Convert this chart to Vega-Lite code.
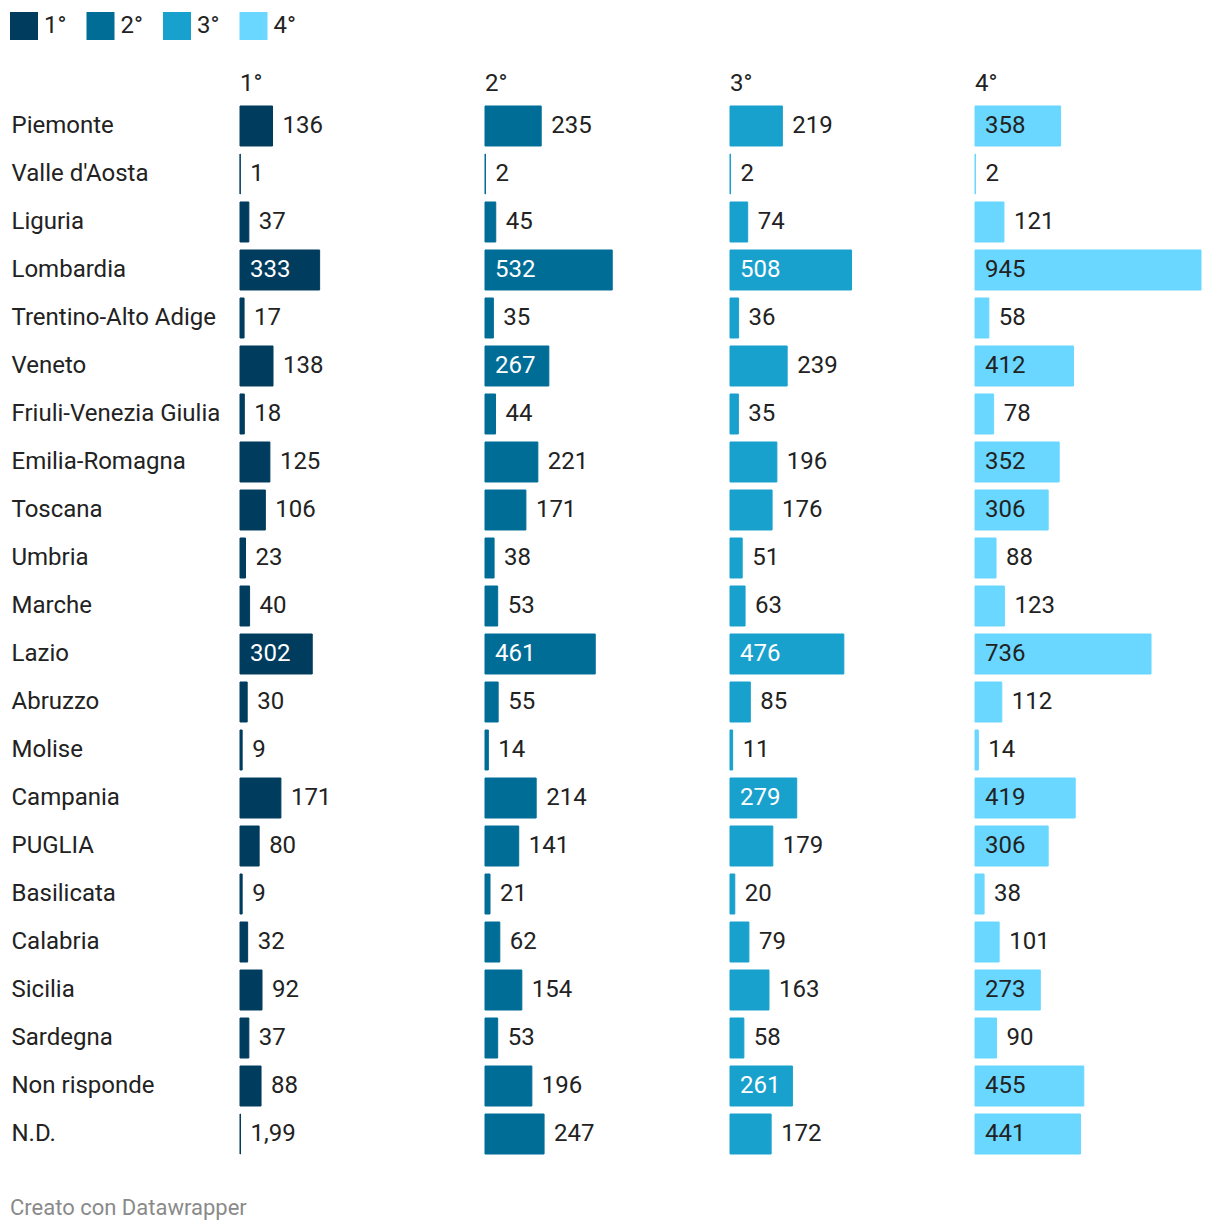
{
  "$schema": "https://vega.github.io/schema/vega-lite/v6.json",
  "padding": {"left": 10, "top": 12, "right": 10, "bottom": 10},
  "background": "white",
  "title": {"text": "Creato con Datawrapper", "orient": "bottom", "anchor": "start", "fontSize": 22, "fontWeight": "normal", "color": "#8a8a8a", "font": "Roboto", "offset": 40},
  "data": {"values": [
    {"region": "Piemonte", "pos": "1°", "v": 136}, {"region": "Piemonte", "pos": "2°", "v": 235}, {"region": "Piemonte", "pos": "3°", "v": 219}, {"region": "Piemonte", "pos": "4°", "v": 358},
    {"region": "Valle d'Aosta", "pos": "1°", "v": 1}, {"region": "Valle d'Aosta", "pos": "2°", "v": 2}, {"region": "Valle d'Aosta", "pos": "3°", "v": 2}, {"region": "Valle d'Aosta", "pos": "4°", "v": 2},
    {"region": "Liguria", "pos": "1°", "v": 37}, {"region": "Liguria", "pos": "2°", "v": 45}, {"region": "Liguria", "pos": "3°", "v": 74}, {"region": "Liguria", "pos": "4°", "v": 121},
    {"region": "Lombardia", "pos": "1°", "v": 333}, {"region": "Lombardia", "pos": "2°", "v": 532}, {"region": "Lombardia", "pos": "3°", "v": 508}, {"region": "Lombardia", "pos": "4°", "v": 945},
    {"region": "Trentino-Alto Adige", "pos": "1°", "v": 17}, {"region": "Trentino-Alto Adige", "pos": "2°", "v": 35}, {"region": "Trentino-Alto Adige", "pos": "3°", "v": 36}, {"region": "Trentino-Alto Adige", "pos": "4°", "v": 58},
    {"region": "Veneto", "pos": "1°", "v": 138}, {"region": "Veneto", "pos": "2°", "v": 267}, {"region": "Veneto", "pos": "3°", "v": 239}, {"region": "Veneto", "pos": "4°", "v": 412},
    {"region": "Friuli-Venezia Giulia", "pos": "1°", "v": 18}, {"region": "Friuli-Venezia Giulia", "pos": "2°", "v": 44}, {"region": "Friuli-Venezia Giulia", "pos": "3°", "v": 35}, {"region": "Friuli-Venezia Giulia", "pos": "4°", "v": 78},
    {"region": "Emilia-Romagna", "pos": "1°", "v": 125}, {"region": "Emilia-Romagna", "pos": "2°", "v": 221}, {"region": "Emilia-Romagna", "pos": "3°", "v": 196}, {"region": "Emilia-Romagna", "pos": "4°", "v": 352},
    {"region": "Toscana", "pos": "1°", "v": 106}, {"region": "Toscana", "pos": "2°", "v": 171}, {"region": "Toscana", "pos": "3°", "v": 176}, {"region": "Toscana", "pos": "4°", "v": 306},
    {"region": "Umbria", "pos": "1°", "v": 23}, {"region": "Umbria", "pos": "2°", "v": 38}, {"region": "Umbria", "pos": "3°", "v": 51}, {"region": "Umbria", "pos": "4°", "v": 88},
    {"region": "Marche", "pos": "1°", "v": 40}, {"region": "Marche", "pos": "2°", "v": 53}, {"region": "Marche", "pos": "3°", "v": 63}, {"region": "Marche", "pos": "4°", "v": 123},
    {"region": "Lazio", "pos": "1°", "v": 302}, {"region": "Lazio", "pos": "2°", "v": 461}, {"region": "Lazio", "pos": "3°", "v": 476}, {"region": "Lazio", "pos": "4°", "v": 736},
    {"region": "Abruzzo", "pos": "1°", "v": 30}, {"region": "Abruzzo", "pos": "2°", "v": 55}, {"region": "Abruzzo", "pos": "3°", "v": 85}, {"region": "Abruzzo", "pos": "4°", "v": 112},
    {"region": "Molise", "pos": "1°", "v": 9}, {"region": "Molise", "pos": "2°", "v": 14}, {"region": "Molise", "pos": "3°", "v": 11}, {"region": "Molise", "pos": "4°", "v": 14},
    {"region": "Campania", "pos": "1°", "v": 171}, {"region": "Campania", "pos": "2°", "v": 214}, {"region": "Campania", "pos": "3°", "v": 279}, {"region": "Campania", "pos": "4°", "v": 419},
    {"region": "PUGLIA", "pos": "1°", "v": 80}, {"region": "PUGLIA", "pos": "2°", "v": 141}, {"region": "PUGLIA", "pos": "3°", "v": 179}, {"region": "PUGLIA", "pos": "4°", "v": 306},
    {"region": "Basilicata", "pos": "1°", "v": 9}, {"region": "Basilicata", "pos": "2°", "v": 21}, {"region": "Basilicata", "pos": "3°", "v": 20}, {"region": "Basilicata", "pos": "4°", "v": 38},
    {"region": "Calabria", "pos": "1°", "v": 32}, {"region": "Calabria", "pos": "2°", "v": 62}, {"region": "Calabria", "pos": "3°", "v": 79}, {"region": "Calabria", "pos": "4°", "v": 101},
    {"region": "Sicilia", "pos": "1°", "v": 92}, {"region": "Sicilia", "pos": "2°", "v": 154}, {"region": "Sicilia", "pos": "3°", "v": 163}, {"region": "Sicilia", "pos": "4°", "v": 273},
    {"region": "Sardegna", "pos": "1°", "v": 37}, {"region": "Sardegna", "pos": "2°", "v": 53}, {"region": "Sardegna", "pos": "3°", "v": 58}, {"region": "Sardegna", "pos": "4°", "v": 90},
    {"region": "Non risponde", "pos": "1°", "v": 88}, {"region": "Non risponde", "pos": "2°", "v": 196}, {"region": "Non risponde", "pos": "3°", "v": 261}, {"region": "Non risponde", "pos": "4°", "v": 455},
    {"region": "N.D.", "pos": "1°", "v": 1.99}, {"region": "N.D.", "pos": "2°", "v": 247}, {"region": "N.D.", "pos": "3°", "v": 172}, {"region": "N.D.", "pos": "4°", "v": 441}
  ]},
  "facet": {"column": {"field": "pos", "type": "nominal", "sort": ["1°", "2°", "3°", "4°"],
    "header": {"title": null, "labelAnchor": "start", "labelAlign": "left", "labelFontSize": 24, "labelFont": "Roboto", "labelColor": "#222222", "labelPadding": 6}}},
  "spacing": 17,
  "spec": {
    "width": 226,
    "height": 1056,
    "encoding": {
      "y": {"field": "region", "type": "nominal", "sort": null,
        "scale": {"paddingInner": 0.1667, "paddingOuter": 0.0833},
        "axis": {"title": null, "domain": false, "ticks": false, "labelAlign": "left", "labelPadding": 228, "labelFontSize": 24, "labelFont": "Roboto", "labelColor": "#222222", "labelLimit": 228}}
    },
    "layer": [
      {"mark": {"type": "bar", "strokeWidth": 1},
       "encoding": {
         "x": {"field": "v", "type": "quantitative", "scale": {"domain": [0, 945], "nice": false}, "axis": null},
         "color": {"field": "pos", "type": "nominal", "scale": {"domain": ["1°", "2°", "3°", "4°"], "range": ["#003c5e", "#006d97", "#19a1cd", "#69d7ff"]},
           "legend": {"title": null, "orient": "none", "legendX": -230, "legendY": -90, "direction": "horizontal", "symbolType": "square", "symbolSize": 784, "symbolStrokeWidth": 0, "labelFontSize": 24, "labelFont": "Roboto", "labelColor": "#222222", "labelOffset": 6, "columnPadding": 19.5}},
         "stroke": {"field": "pos", "type": "nominal", "scale": {"domain": ["1°", "2°", "3°", "4°"], "range": ["#003c5e", "#006d97", "#19a1cd", "#69d7ff"]}, "legend": null}
       }},
      {"transform": [{"filter": "datum.v < 250"}],
       "mark": {"type": "text", "align": "left", "baseline": "middle", "dx": 10, "fontSize": 24, "font": "Roboto", "color": "#222222"},
       "encoding": {"x": {"field": "v", "type": "quantitative"}, "text": {"field": "v", "type": "quantitative", "format": "~g"}}},
      {"transform": [{"filter": "datum.v >= 250"}],
       "mark": {"type": "text", "align": "left", "baseline": "middle", "dx": 10, "fontSize": 24, "font": "Roboto"},
       "encoding": {"x": {"datum": 0, "type": "quantitative"}, "text": {"field": "v", "type": "quantitative", "format": "~g"},
         "color": {"condition": {"test": "datum.pos === '4°'", "value": "#222222"}, "value": "#ffffff"}}}
    ]
  },
  "config": {
    "view": {"stroke": null},
    "font": "Roboto",
    "locale": {"number": {"decimal": ",", "thousands": ".", "grouping": [3], "currency": ["€", ""]}}
  }
}
